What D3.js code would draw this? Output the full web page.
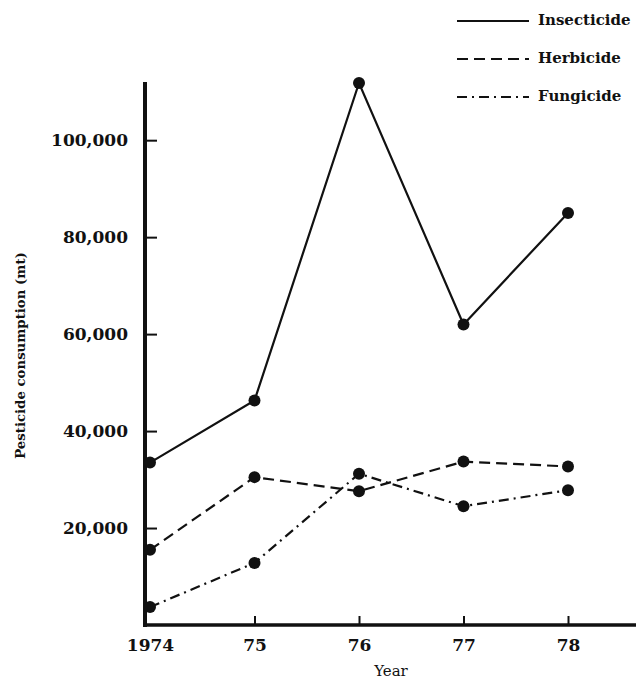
<!DOCTYPE html>
<html>
<head>
<meta charset="utf-8">
<script src="https://cdn.jsdelivr.net/npm/d3@7"></script>
<style>
  html, body { margin: 0; padding: 0; background: #fff; }
  svg text { font-family: "DejaVu Serif", "Liberation Serif", serif; fill: #111; }
</style>
</head>
<body>
<div id="chart"></div>
<script>
// Pesticide consumption by year (mt)
const years = [1974, 1975, 1976, 1977, 1978];
const insecticide = [33500, 46300, 111800, 62000, 85000];
const herbicide = [15500, 30500, 27600, 33700, 32700];
const fungicide = [3700, 12800, 31200, 24500, 27800];
const yTicks = [20000, 40000, 60000, 80000, 100000];

const SERIES = [
  { name: "Insecticide", values: insecticide, dash: null },
  { name: "Herbicide", values: herbicide, dash: "11,6" },
  { name: "Fungicide", values: fungicide, dash: "10,5,2,5" },
];

const WIDTH = 639;
const HEIGHT = 689;
const INK = "#111";

const svg = d3.select("#chart")
  .append("svg")
  .attr("width", WIDTH)
  .attr("height", HEIGHT);

const x = d3.scaleLinear().domain([1974, 1978]).range([150, 568]);
const y = d3.scaleLinear().domain([0, 112000]).range([625, 82]);

const axisX0 = 145; // where the y axis sits
const axisX1 = 636; // end of x axis

// Y axis (ticks point inward, labels outside)
const yAxis = svg.append("g")
  .attr("transform", `translate(${axisX0},0)`)
  .call(d3.axisLeft(y)
    .tickValues(yTicks)
    .tickSizeInner(-12)
    .tickSizeOuter(0)
    .tickPadding(17)
    .tickFormat(d3.format(",")));
yAxis.select(".domain").remove();
yAxis.selectAll(".tick line").attr("stroke", INK).attr("stroke-width", 2);
yAxis.selectAll(".tick text")
  .style("font-size", "17px")
  .style("font-weight", "bold");

// X axis
const xAxis = svg.append("g")
  .attr("transform", `translate(0,${y(0)})`)
  .call(d3.axisBottom(x)
    .tickValues(years)
    .tickSizeInner(-9)
    .tickSizeOuter(0)
    .tickPadding(14)
    .tickFormat((d) => (d === 1974 ? "1974" : String(d).slice(2))));
xAxis.select(".domain").remove();
xAxis.selectAll(".tick line")
  .attr("stroke", INK)
  .attr("stroke-width", 2)
  .attr("opacity", (d) => (d === 1974 ? 0 : 1));
xAxis.selectAll(".tick text")
  .style("font-size", "17px")
  .style("font-weight", "bold");

// axis lines
svg.append("line")
  .attr("x1", axisX0).attr("x2", axisX0)
  .attr("y1", y.range()[1]).attr("y2", y(0) + 2)
  .attr("stroke", INK).attr("stroke-width", 4);
svg.append("line")
  .attr("x1", axisX0 - 2).attr("x2", axisX1)
  .attr("y1", y(0)).attr("y2", y(0))
  .attr("stroke", INK).attr("stroke-width", 3.5);

// axis titles
svg.append("text")
  .attr("x", (x.range()[0] + axisX1) / 2 - 2)
  .attr("y", 676)
  .attr("text-anchor", "middle")
  .style("font-size", "15px")
  .text("Year");

svg.append("text")
  .attr("transform", `translate(25,${(y(0) + y.range()[1]) / 2 + 2}) rotate(-90)`)
  .attr("text-anchor", "middle")
  .style("font-size", "13.3px")
  .style("font-weight", "bold")
  .text("Pesticide consumption (mt)");

// series lines and markers
const line = d3.line()
  .x((d, i) => x(years[i]))
  .y((d) => y(d));

SERIES.forEach((s) => {
  svg.append("path")
    .datum(s.values)
    .attr("fill", "none")
    .attr("stroke", INK)
    .attr("stroke-width", 2.2)
    .attr("stroke-dasharray", s.dash)
    .attr("d", line);

  svg.selectAll(null)
    .data(s.values)
    .enter()
    .append("circle")
    .attr("cx", (d, i) => x(years[i]))
    .attr("cy", (d) => y(d))
    .attr("r", 6)
    .attr("fill", INK);
});

// legend
const legend = svg.append("g").attr("transform", "translate(457,0)");
SERIES.forEach((s, i) => {
  const row = legend.append("g").attr("transform", `translate(0,${21 + i * 38})`);
  row.append("line")
    .attr("x1", 0).attr("x2", 72)
    .attr("y1", 0).attr("y2", 0)
    .attr("stroke", INK)
    .attr("stroke-width", 2.2)
    .attr("stroke-dasharray", s.dash);
  row.append("text")
    .attr("x", 81)
    .attr("y", 4)
    .style("font-size", "15px")
    .style("font-weight", "bold")
    .text(s.name);
});
</script>
</body>
</html>
